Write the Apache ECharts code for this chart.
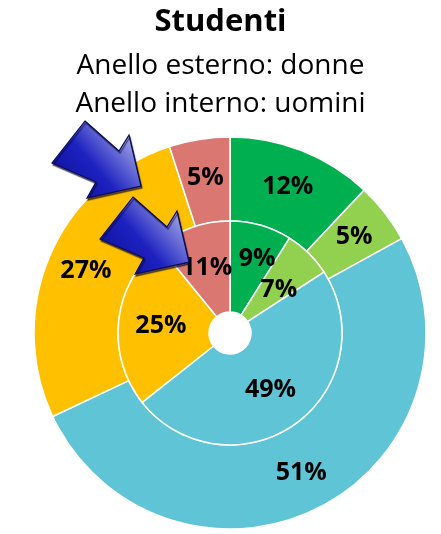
<!DOCTYPE html>
<html>
<head>
<meta charset="utf-8">
<script src="https://cdn.jsdelivr.net/npm/echarts@6/dist/echarts.min.js"></script>
<style>
  html, body { margin: 0; padding: 0; background: #fff; }
  #chart { width: 441px; height: 534px; }
</style>
</head>
<body>
<div id="chart"></div>
<script>
// categories, clockwise from the top
var categories = ['A', 'B', 'C', 'D', 'E'];
var colors = ['#00B050', '#92D050', '#5FC4D5', '#FFC000', '#DA7770'];
var donne = [12, 5, 51, 27, 5];    // outer ring
var uomini = [9, 7, 49, 25, 11];   // inner ring

var chart = echarts.init(document.getElementById('chart'));

function makeData(values) {
  return values.map(function (v, i) {
    return { name: categories[i], value: v, itemStyle: { color: colors[i] } };
  });
}

// blue arrow shape, tip at the bottom right
var arrowPts = [[85, 121], [119, 151], [129, 135], [141, 186], [87, 198], [96, 182], [52, 163]];
function arrow(dx, dy) {
  return {
    type: 'polygon',
    z: 100,
    shape: { points: arrowPts.map(function (p) { return [p[0] + dx, p[1] + dy]; }) },
    style: {
      fill: new echarts.graphic.LinearGradient(0, 1, 1, 0, [
        { offset: 0, color: '#0a0a90' },
        { offset: 0.45, color: '#1d22c0' },
        { offset: 1, color: '#d4d8f6' }
      ]),
      stroke: '#0b0b55',
      lineWidth: 1.2,
      shadowColor: 'rgba(0,0,40,0.6)',
      shadowOffsetX: 1,
      shadowOffsetY: 2,
      shadowBlur: 1
    }
  };
}

var labelFont = { show: true, position: 'inside', formatter: '{c}%', color: '#000',
  fontFamily: 'Open Sans', fontSize: 25, fontWeight: 'bold' };

var common = {
  type: 'pie',
  center: [230, 333],
  startAngle: 90,
  clockwise: true,
  avoidLabelOverlap: false,
  minShowLabelAngle: 0,
  label: labelFont,
  labelLine: { show: false },
  itemStyle: { borderColor: '#fff', borderWidth: 1.5 },
  emphasis: { disabled: true }
};

// small nudges for the two crowded inner labels
var innerNudge = { 0: [8, -7], 1: [0, 6] };

chart.setOption({
  animation: false,
  title: {
    text: 'Studenti',
    subtext: 'Anello esterno: donne\nAnello interno: uomini',
    left: 'center',
    top: 2,
    itemGap: 9,
    textStyle: { fontFamily: 'Open Sans', fontSize: 31, fontWeight: 'bold', color: '#000' },
    subtextStyle: { fontFamily: 'Open Sans', fontSize: 28, color: '#000', lineHeight: 38 }
  },
  graphic: [arrow(0, 0), arrow(48, 76)],
  series: [
    Object.assign({}, common, {
      radius: [112, 196],
      labelLayout: { hideOverlap: false },
      data: makeData(donne)
    }),
    Object.assign({}, common, {
      radius: [21, 112],
      labelLayout: function (p) {
        var n = innerNudge[p.dataIndex];
        return { hideOverlap: false, dx: n ? n[0] : 0, dy: n ? n[1] : 0 };
      },
      data: makeData(uomini)
    })
  ]
});
</script>
</body>
</html>
